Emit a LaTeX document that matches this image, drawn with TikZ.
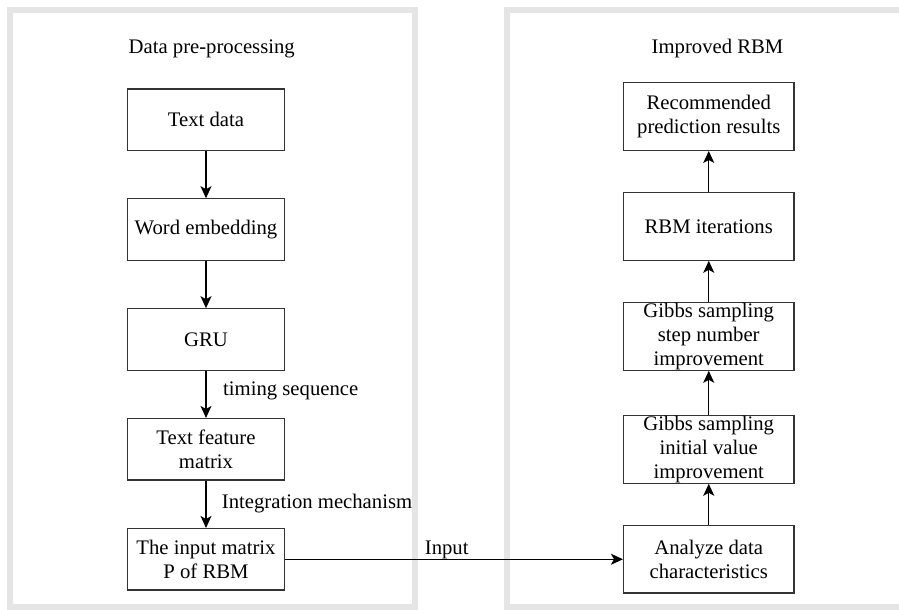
\documentclass[tikz,border=0pt]{standalone}
\usepackage{fontspec}
\setmainfont{Liberation Serif}
\newfontfamily\boxfont{Liberation Serif}
\usetikzlibrary{arrows.meta}

\begin{document}
\begin{tikzpicture}[x=1bp,y=-1bp,
  panel/.style={draw=black!10, line width=6bp},
  lbox/.style={draw=black!80, line width=1.1bp, fill=white, inner sep=0pt,
    minimum width=157bp, minimum height=61.5bp, align=center,
    font=\boxfont\fontsize{20.7bp}{24bp}\selectfont},
  rbox/.style={lbox, minimum width=170.5bp, minimum height=67.5bp},
  lab/.style={inner sep=0pt, font=\boxfont\fontsize{20.7bp}{24bp}\selectfont},
  arr/.style={draw=black, line width=1.1bp,
    -{Stealth[length=12bp,width=11bp,inset=3bp]}}]

  \useasboundingbox (0,0) rectangle (899,610);
  \clip (0,0) rectangle (899,610);

  % two framed panels
  \draw[panel] (10,9.7) rectangle (415,607.3);
  \draw[panel] (506.7,9.7) rectangle (910,607.3);

  % panel titles
  \node[lab, anchor=base] (tleft) at (211.7,53.3) {Data pre-processing};
  \node[lab, anchor=base] (tright) at (717.5,53.3) {Improved RBM};

  % data pre-processing chain
  \node[lbox] (text) at (206,119.75) {Text data};
  \node[lbox] (emb)  at (206,229.5)  {Word embedding};
  \node[lbox] (gru)  at (206,339.5)  {GRU};
  \node[lbox] (tfm)  at (206,449.25) {Text feature\\matrix};
  \node[lbox] (inp)  at (206,559.25) {The input matrix\\P of RBM};

  % improved RBM chain
  \node[rbox] (rec)  at (708.75,116.7) {Recommended\\prediction results};
  \node[rbox] (iter) at (708.75,226.5) {RBM iterations};
  \node[rbox] (step) at (708.75,336.5) {Gibbs sampling\\step number\\improvement};
  \node[rbox] (init) at (708.75,449.5) {Gibbs sampling\\initial value\\improvement};
  \node[rbox] (ana)  at (708.75,559.25) {Analyze data\\characteristics};

  % connectors
  \draw[arr] (text) -- (emb);
  \draw[arr] (emb) -- (gru);
  \draw[arr] (gru) -- (tfm);
  \draw[arr] (tfm) -- (inp);
  \draw[arr] (inp) -- (ana);
  \draw[arr] (ana) -- (init);
  \draw[arr] (init) -- (step);
  \draw[arr] (step) -- (iter);
  \draw[arr] (iter) -- (rec);

  % connector labels
  \node[lab, anchor=base west] (ltiming) at (223,395.5) {timing sequence};
  \node[lab, anchor=base west] (lintegr) at (221.7,508) {Integration mechanism};
  \node[lab, anchor=base] (linput) at (446.7,554.3) {Input};
\end{tikzpicture}
\end{document}
